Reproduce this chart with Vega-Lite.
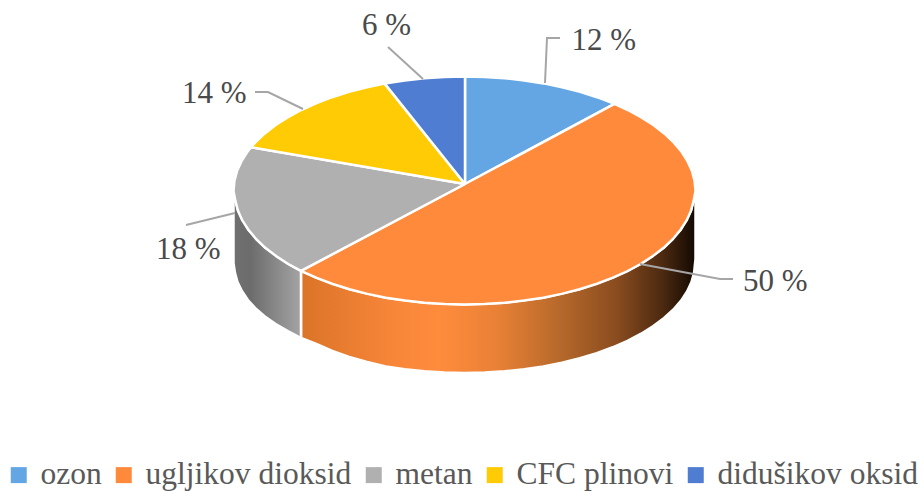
{"$schema":"https://vega.github.io/schema/vega-lite/v6.json","width":924,"height":491,"autosize":{"type":"fit","contains":"padding"},"padding":0,"background":"white","view":{"stroke":null},
"datasets":{
"walls":[
{"gas":"ugljikov dioksid","seq":1,"x":231,"y":0},{"gas":"ugljikov dioksid","seq":2,"x":226.5,"y":-19.7},{"gas":"ugljikov dioksid","seq":3,"x":216.1,"y":-38.8},{"gas":"ugljikov dioksid","seq":4,"x":199.2,"y":-56.8},{"gas":"ugljikov dioksid","seq":5,"x":176.2,"y":-73},{"gas":"ugljikov dioksid","seq":6,"x":147.8,"y":-86.9},{"gas":"ugljikov dioksid","seq":7,"x":115,"y":-98.3},{"gas":"ugljikov dioksid","seq":8,"x":78.7,"y":-106.7},{"gas":"ugljikov dioksid","seq":9,"x":39.9,"y":-111.8},{"gas":"ugljikov dioksid","seq":10,"x":0,"y":-113.5},{"gas":"ugljikov dioksid","seq":11,"x":-39.9,"y":-111.8},{"gas":"ugljikov dioksid","seq":12,"x":-78.7,"y":-106.7},{"gas":"ugljikov dioksid","seq":13,"x":-115,"y":-98.3},{"gas":"ugljikov dioksid","seq":14,"x":-147.8,"y":-86.9},{"gas":"ugljikov dioksid","seq":15,"x":-163.5,"y":-79.9},
{"gas":"ugljikov dioksid","seq":16,"x":-163.5,"y":-147},{"gas":"ugljikov dioksid","seq":17,"x":-148.2,"y":-153},{"gas":"ugljikov dioksid","seq":18,"x":-132.2,"y":-160},{"gas":"ugljikov dioksid","seq":19,"x":-115.3,"y":-166},{"gas":"ugljikov dioksid","seq":20,"x":-97.4,"y":-171},{"gas":"ugljikov dioksid","seq":21,"x":-78.8,"y":-175.4},{"gas":"ugljikov dioksid","seq":22,"x":-59.7,"y":-178.3},{"gas":"ugljikov dioksid","seq":23,"x":-40,"y":-180.3},{"gas":"ugljikov dioksid","seq":24,"x":-20.1,"y":-181.6},{"gas":"ugljikov dioksid","seq":25,"x":0,"y":-182},{"gas":"ugljikov dioksid","seq":26,"x":20.1,"y":-181.6},{"gas":"ugljikov dioksid","seq":27,"x":40,"y":-180.3},{"gas":"ugljikov dioksid","seq":28,"x":59.7,"y":-178.3},{"gas":"ugljikov dioksid","seq":29,"x":78.8,"y":-175.4},{"gas":"ugljikov dioksid","seq":30,"x":97.4,"y":-171.7},{"gas":"ugljikov dioksid","seq":31,"x":115.3,"y":-167.3},{"gas":"ugljikov dioksid","seq":32,"x":132.2,"y":-162.1},{"gas":"ugljikov dioksid","seq":33,"x":148.2,"y":-156.3},{"gas":"ugljikov dioksid","seq":34,"x":163,"y":-149.8},{"gas":"ugljikov dioksid","seq":35,"x":176.6,"y":-142.7},{"gas":"ugljikov dioksid","seq":36,"x":188.8,"y":-135.1},{"gas":"ugljikov dioksid","seq":37,"x":199.6,"y":-127},{"gas":"ugljikov dioksid","seq":38,"x":208.9,"y":-118.5},{"gas":"ugljikov dioksid","seq":39,"x":216.6,"y":-109.6},{"gas":"ugljikov dioksid","seq":40,"x":222.6,"y":-100.5},{"gas":"ugljikov dioksid","seq":41,"x":227,"y":-91.1},{"gas":"ugljikov dioksid","seq":42,"x":229.6,"y":-81.6},{"gas":"ugljikov dioksid","seq":43,"x":231,"y":-68},{"gas":"ugljikov dioksid","seq":44,"x":231,"y":0},
{"gas":"metan","seq":1,"x":-163.5,"y":-79.9},{"gas":"metan","seq":2,"x":-176.2,"y":-73},{"gas":"metan","seq":3,"x":-199.2,"y":-56.8},{"gas":"metan","seq":4,"x":-216.1,"y":-38.8},{"gas":"metan","seq":5,"x":-226.5,"y":-19.7},{"gas":"metan","seq":6,"x":-231,"y":0},{"gas":"metan","seq":7,"x":-231,"y":-72},{"gas":"metan","seq":8,"x":-229.6,"y":-81.6},{"gas":"metan","seq":9,"x":-227,"y":-91},{"gas":"metan","seq":10,"x":-222.6,"y":-100},{"gas":"metan","seq":11,"x":-216.6,"y":-109},{"gas":"metan","seq":12,"x":-208.9,"y":-117.5},{"gas":"metan","seq":13,"x":-199.6,"y":-125.5},{"gas":"metan","seq":14,"x":-188.8,"y":-133},{"gas":"metan","seq":15,"x":-176.6,"y":-140},{"gas":"metan","seq":16,"x":-163.5,"y":-147},{"gas":"metan","seq":17,"x":-163.5,"y":-79.9}
],
"faces":[
{"gas":"ozon","seq":1,"x":0.5,"y":7},{"gas":"ozon","seq":2,"x":0.5,"y":114.5},{"gas":"ozon","seq":3,"x":20.1,"y":114.1},{"gas":"ozon","seq":4,"x":40.1,"y":112.8},{"gas":"ozon","seq":5,"x":59.8,"y":110.6},{"gas":"ozon","seq":6,"x":79,"y":107.6},{"gas":"ozon","seq":7,"x":97.6,"y":103.8},{"gas":"ozon","seq":8,"x":115.5,"y":99.2},{"gas":"ozon","seq":9,"x":132.5,"y":93.8},{"gas":"ozon","seq":10,"x":150,"y":87.1},{"gas":"ozon","seq":11,"x":0.5,"y":7},
{"gas":"ugljikov dioksid","seq":1,"x":0.5,"y":7},{"gas":"ugljikov dioksid","seq":2,"x":150,"y":87.1},{"gas":"ugljikov dioksid","seq":3,"x":163.3,"y":81},{"gas":"ugljikov dioksid","seq":4,"x":176.9,"y":73.6},{"gas":"ugljikov dioksid","seq":5,"x":189.2,"y":65.7},{"gas":"ugljikov dioksid","seq":6,"x":200,"y":57.3},{"gas":"ugljikov dioksid","seq":7,"x":209.4,"y":48.4},{"gas":"ugljikov dioksid","seq":8,"x":217.1,"y":39.2},{"gas":"ugljikov dioksid","seq":9,"x":223.1,"y":29.6},{"gas":"ugljikov dioksid","seq":10,"x":227.5,"y":19.9},{"gas":"ugljikov dioksid","seq":11,"x":230.1,"y":10},{"gas":"ugljikov dioksid","seq":12,"x":231,"y":0},{"gas":"ugljikov dioksid","seq":13,"x":229.1,"y":-9.9},{"gas":"ugljikov dioksid","seq":14,"x":226.5,"y":-19.7},{"gas":"ugljikov dioksid","seq":15,"x":222.2,"y":-29.4},{"gas":"ugljikov dioksid","seq":16,"x":216.1,"y":-38.8},{"gas":"ugljikov dioksid","seq":17,"x":208.5,"y":-48},{"gas":"ugljikov dioksid","seq":18,"x":199.2,"y":-56.8},{"gas":"ugljikov dioksid","seq":19,"x":188.4,"y":-65.1},{"gas":"ugljikov dioksid","seq":20,"x":176.2,"y":-73},{"gas":"ugljikov dioksid","seq":21,"x":162.6,"y":-80.3},{"gas":"ugljikov dioksid","seq":22,"x":147.8,"y":-86.9},{"gas":"ugljikov dioksid","seq":23,"x":131.9,"y":-93},{"gas":"ugljikov dioksid","seq":24,"x":115,"y":-98.3},{"gas":"ugljikov dioksid","seq":25,"x":97.2,"y":-102.9},{"gas":"ugljikov dioksid","seq":26,"x":78.7,"y":-106.7},{"gas":"ugljikov dioksid","seq":27,"x":59.5,"y":-109.6},{"gas":"ugljikov dioksid","seq":28,"x":39.9,"y":-111.8},{"gas":"ugljikov dioksid","seq":29,"x":20,"y":-113.1},{"gas":"ugljikov dioksid","seq":30,"x":0,"y":-113.5},{"gas":"ugljikov dioksid","seq":31,"x":-20,"y":-113.1},{"gas":"ugljikov dioksid","seq":32,"x":-39.9,"y":-111.8},{"gas":"ugljikov dioksid","seq":33,"x":-59.5,"y":-109.6},{"gas":"ugljikov dioksid","seq":34,"x":-78.7,"y":-106.7},{"gas":"ugljikov dioksid","seq":35,"x":-97.2,"y":-102.9},{"gas":"ugljikov dioksid","seq":36,"x":-115,"y":-98.3},{"gas":"ugljikov dioksid","seq":37,"x":-131.9,"y":-93},{"gas":"ugljikov dioksid","seq":38,"x":-147.8,"y":-86.9},{"gas":"ugljikov dioksid","seq":39,"x":-163.5,"y":-79.9},{"gas":"ugljikov dioksid","seq":40,"x":0.5,"y":7},
{"gas":"metan","seq":1,"x":0.5,"y":7},{"gas":"metan","seq":2,"x":-163.5,"y":-79.9},{"gas":"metan","seq":3,"x":-176.2,"y":-73},{"gas":"metan","seq":4,"x":-188.4,"y":-65.1},{"gas":"metan","seq":5,"x":-199.2,"y":-56.8},{"gas":"metan","seq":6,"x":-208.5,"y":-48},{"gas":"metan","seq":7,"x":-216.1,"y":-38.8},{"gas":"metan","seq":8,"x":-222.2,"y":-29.4},{"gas":"metan","seq":9,"x":-226.5,"y":-19.7},{"gas":"metan","seq":10,"x":-229.1,"y":-9.9},{"gas":"metan","seq":11,"x":-231,"y":0},{"gas":"metan","seq":12,"x":-230.1,"y":10},{"gas":"metan","seq":13,"x":-227.5,"y":19.9},{"gas":"metan","seq":14,"x":-223.1,"y":29.6},{"gas":"metan","seq":15,"x":-217.1,"y":39.2},{"gas":"metan","seq":16,"x":-213.4,"y":43.8},{"gas":"metan","seq":17,"x":0.5,"y":7},
{"gas":"CFC plinovi","seq":1,"x":0.5,"y":7},{"gas":"CFC plinovi","seq":2,"x":-213.4,"y":43.8},{"gas":"CFC plinovi","seq":3,"x":-209.4,"y":48.4},{"gas":"CFC plinovi","seq":4,"x":-200,"y":57.3},{"gas":"CFC plinovi","seq":5,"x":-189.2,"y":65.7},{"gas":"CFC plinovi","seq":6,"x":-176.9,"y":73.6},{"gas":"CFC plinovi","seq":7,"x":-163.3,"y":81},{"gas":"CFC plinovi","seq":8,"x":-148.5,"y":87.7},{"gas":"CFC plinovi","seq":9,"x":-132.5,"y":93.8},{"gas":"CFC plinovi","seq":10,"x":-115.5,"y":99.2},{"gas":"CFC plinovi","seq":11,"x":-97.6,"y":103.8},{"gas":"CFC plinovi","seq":12,"x":-79.8,"y":107.4},{"gas":"CFC plinovi","seq":13,"x":0.5,"y":7},
{"gas":"didušikov oksid","seq":1,"x":0.5,"y":7},{"gas":"didušikov oksid","seq":2,"x":-79.8,"y":107.4},{"gas":"didušikov oksid","seq":3,"x":-59.8,"y":110.6},{"gas":"didušikov oksid","seq":4,"x":-40.1,"y":112.8},{"gas":"didušikov oksid","seq":5,"x":-20.1,"y":114.1},{"gas":"didušikov oksid","seq":6,"x":0.5,"y":114.5},{"gas":"didušikov oksid","seq":7,"x":0.5,"y":7}
],
"leaders":[
{"gas":"ozon","seq":1,"x":95.5,"y":153},{"gas":"ozon","seq":2,"x":82.5,"y":153},{"gas":"ozon","seq":3,"x":80.5,"y":108},
{"gas":"ugljikov dioksid","seq":1,"x":268.5,"y":-88},{"gas":"ugljikov dioksid","seq":2,"x":255.5,"y":-88},{"gas":"ugljikov dioksid","seq":3,"x":175.5,"y":-73},
{"gas":"metan","seq":1,"x":-278.5,"y":-34},{"gas":"metan","seq":2,"x":-229.5,"y":-22},
{"gas":"CFC plinovi","seq":1,"x":-209.5,"y":99},{"gas":"CFC plinovi","seq":2,"x":-196.5,"y":99},{"gas":"CFC plinovi","seq":3,"x":-161.5,"y":82},
{"gas":"didušikov oksid","seq":1,"x":-76.5,"y":144},{"gas":"didušikov oksid","seq":2,"x":-41.5,"y":112}
],
"labels":[
{"gas":"ozon","share":"12 %","x":107,"y":141},
{"gas":"ugljikov dioksid","share":"50 %","x":278.5,"y":-100},
{"gas":"metan","share":"18 %","x":-308.5,"y":-68},
{"gas":"CFC plinovi","share":"14 %","x":-282.5,"y":88},
{"gas":"didušikov oksid","share":"6 %","x":-102.5,"y":156}
]},
"encoding":{
"x":{"field":"x","type":"quantitative","scale":{"domain":[-464.5,459.5],"nice":false,"zero":false},"axis":null},
"y":{"field":"y","type":"quantitative","scale":{"domain":[-300,191],"nice":false,"zero":false},"axis":null}
},
"layer":[
{"data":{"name":"walls"},"transform":[{"filter":"datum.gas === 'ugljikov dioksid'"}],
"mark":{"type":"line","stroke":"white","strokeWidth":2.5,"strokeJoin":"bevel","fill":{"gradient":"linear","x1":0,"y1":0,"x2":1,"y2":0,"stops":[{"offset":0,"color":"#DB7428"},{"offset":0.25,"color":"#F9873A"},{"offset":0.35,"color":"#FF8C3D"},{"offset":0.5,"color":"#E88035"},{"offset":0.65,"color":"#B86A2B"},{"offset":0.8,"color":"#8A4C1F"},{"offset":0.92,"color":"#4A2810"},{"offset":1,"color":"#120902"}]}},
"encoding":{"order":{"field":"seq","type":"quantitative"}}},
{"data":{"name":"walls"},"transform":[{"filter":"datum.gas === 'metan'"}],
"mark":{"type":"line","stroke":"white","strokeWidth":2.5,"strokeJoin":"bevel","fill":{"gradient":"linear","x1":0,"y1":0,"x2":1,"y2":0,"stops":[{"offset":0,"color":"#707070"},{"offset":0.25,"color":"#6C6C6C"},{"offset":1,"color":"#A4A4A4"}]}},
"encoding":{"order":{"field":"seq","type":"quantitative"}}},
{"data":{"name":"faces"},
"mark":{"type":"line","stroke":"white","strokeWidth":2.5,"strokeJoin":"bevel"},
"encoding":{"order":{"field":"seq","type":"quantitative"},"detail":{"field":"gas"},
"fill":{"field":"gas","type":"nominal","scale":{"domain":["ozon","ugljikov dioksid","metan","CFC plinovi","didušikov oksid"],"range":["#64A6E4","#FF8A3C","#B0B0B0","#FFCB05","#4E7DD2"]},
"legend":{"title":null,"orient":"none","legendX":3,"legendY":459,"direction":"horizontal","columns":5,"symbolType":"square","symbolSize":256,"symbolStrokeWidth":0,"labelFont":"Liberation Serif","labelFontSize":31.5,"labelColor":"#595959","labelOffset":6,"columnPadding":6,"labelLimit":400,"symbolOpacity":1,"padding":0}}}},
{"data":{"name":"leaders"},"mark":{"type":"line","stroke":"#A6A6A6","strokeWidth":2},
"encoding":{"order":{"field":"seq","type":"quantitative"},"detail":{"field":"gas"}}},
{"data":{"name":"labels"},"mark":{"type":"text","align":"left","baseline":"alphabetic","font":"Liberation Serif","fontSize":31,"color":"#4A4A4A"},
"encoding":{"text":{"field":"share"}}}
]}
